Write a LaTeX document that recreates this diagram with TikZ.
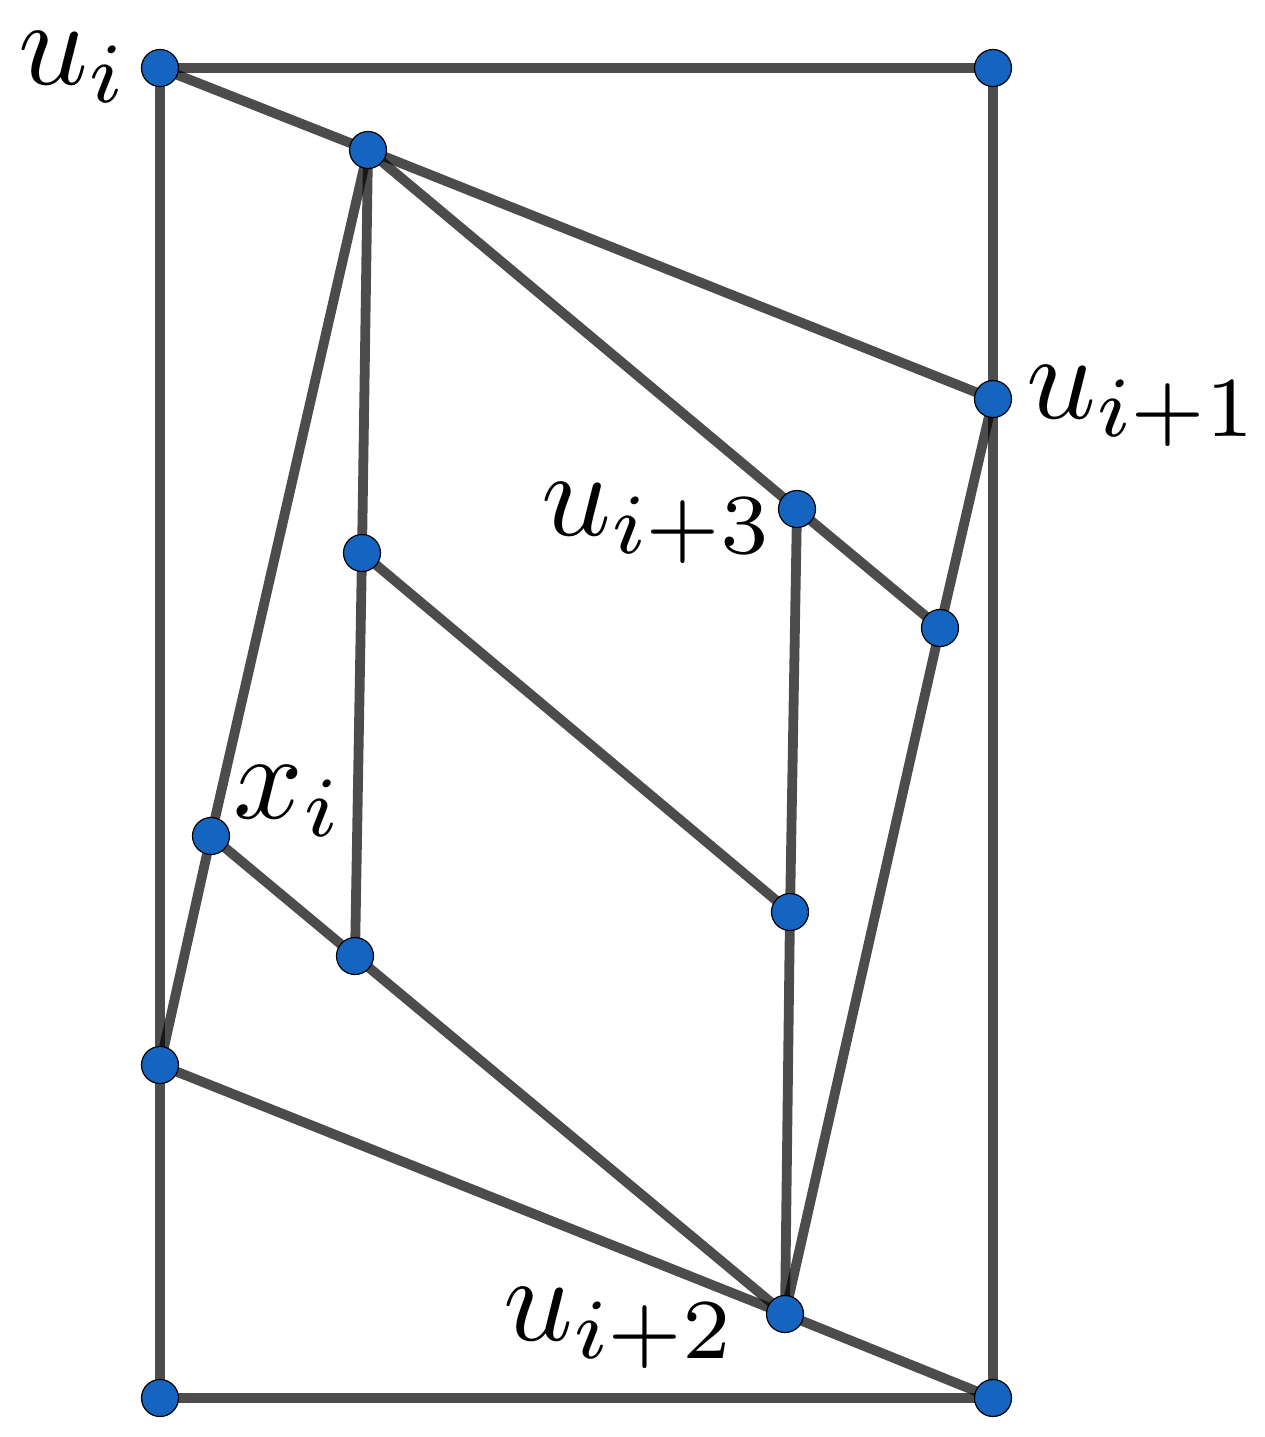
\documentclass[tikz,border=0pt]{standalone}
\begin{document}
\begin{tikzpicture}[x=0.5pt,y=-0.5pt,
  edge/.style={draw=black,draw opacity=0.7,line width=4.9pt},
  vtx/.style={circle,fill={rgb,255:red,21;green,101;blue,192},draw=black,line width=0.6pt,minimum size=18.5pt,inner sep=0pt},
  lab/.style={inner sep=0pt,anchor=base west,font=\normalsize,scale=6.1}]
\useasboundingbox (0,0) rectangle (1265,1437);
\coordinate (A) at (160,68);
\coordinate (B) at (993,68);
\coordinate (C) at (368,150);
\coordinate (D) at (993,399);
\coordinate (E) at (797,509);
\coordinate (F) at (362,553);
\coordinate (G) at (940,628);
\coordinate (H) at (211,836);
\coordinate (I) at (790,912);
\coordinate (J) at (355,956);
\coordinate (K) at (160,1065);
\coordinate (L) at (785,1314);
\coordinate (M) at (160,1398);
\coordinate (N) at (993,1398);
\foreach \p/\q in {A/B,A/M,B/N,M/N,A/C,C/D,C/H,H/K,C/F,F/J,C/E,E/G,D/G,G/L,E/I,I/L,F/I,H/J,J/L,K/L,L/N}
  \draw[edge] (\p) -- (\q);
\foreach \p in {A,B,C,D,E,F,G,H,I,J,K,L,M,N}
  \node[vtx] (n\p) at (\p) {};
\node[lab] (lA) at (16,84) {$u_i$};
\node[lab] (lD) at (1024,418) {$u_{i+1}$};
\node[lab] (lE) at (539,535) {$u_{i+3}$};
\node[lab] (lH) at (231,818) {$x_i$};
\node[lab] (lL) at (501,1340) {$u_{i+2}$};
\end{tikzpicture}
\end{document}
